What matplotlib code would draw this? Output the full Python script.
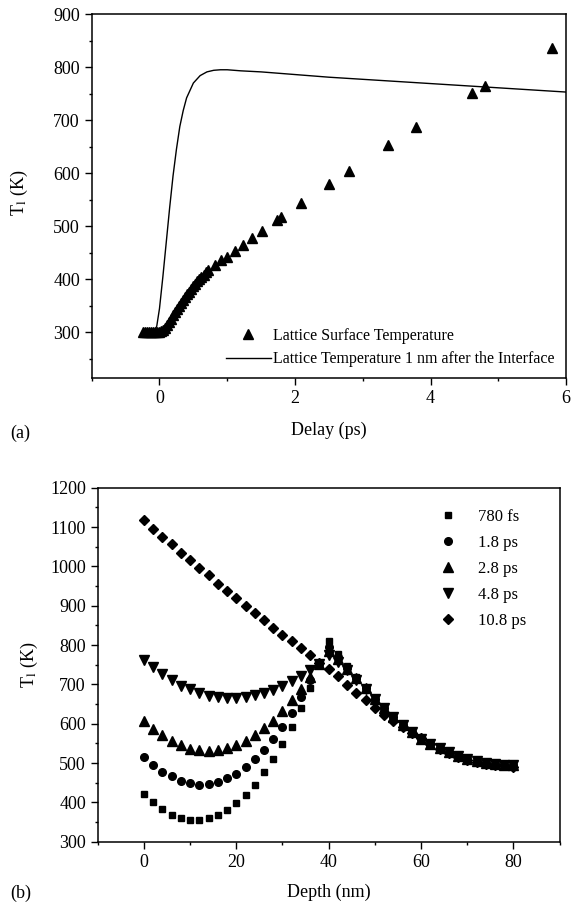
import matplotlib
matplotlib.use("Agg")
import matplotlib.pyplot as plt
from matplotlib.ticker import MultipleLocator

plt.rcParams['font.family'] = ['Liberation Serif', 'DejaVu Serif']
plt.rcParams['mathtext.fontset'] = 'stix'

# (a) lattice surface temperature vs delay
surf_delay = [-0.25, -0.22, -0.19, -0.16, -0.13, -0.10, -0.07, -0.04, -0.01,
              0.02, 0.05, 0.08, 0.11, 0.14, 0.17, 0.20, 0.23, 0.26, 0.29,
              0.32, 0.35, 0.38, 0.41, 0.44, 0.47, 0.50, 0.53, 0.56, 0.59,
              0.62, 0.65, 0.68, 0.72, 0.82, 0.91, 1.00, 1.11, 1.23, 1.37,
              1.51, 1.73, 1.80, 2.09, 2.50, 2.79, 3.37, 3.79, 4.61, 4.80, 5.80]
surf_temp = [300, 300, 300, 300, 300, 300, 300, 300, 300,
             302, 305, 309, 314, 320, 326, 332, 338, 344, 350,
             356, 361, 367, 372, 377, 382, 387, 391, 396, 400,
             405, 409, 413, 418, 427, 436, 443, 454, 465, 477,
             492, 511, 517, 544, 580, 604, 654, 688, 751, 764, 836]

# (a) lattice temperature 1 nm after the interface
int_delay = [-0.25, -0.08, -0.04, 0.0, 0.05, 0.1, 0.15, 0.2, 0.25, 0.3, 0.35,
             0.4, 0.5, 0.6, 0.7, 0.8, 0.9, 1.0, 1.2, 1.5, 2.0, 2.5, 3.0, 3.5,
             4.0, 4.5, 5.0, 5.5, 6.0]
int_temp = [300, 300, 312, 345, 405, 470, 535, 595, 645, 688, 718,
            742, 770, 784, 791, 794, 795, 795, 793, 791, 786, 781, 777, 773,
            769, 765, 761, 757, 753]

# (b) temperature profiles vs depth
depth = list(range(0, 82, 2))
tail = [809, 778, 746, 718, 691, 665, 640, 617, 596, 578, 562, 548, 537, 527,
        518, 511, 505, 500, 498, 496, 495]  # 40..80 nm
t_780fs = [421, 400, 383, 369, 360, 356, 355, 359, 368, 381, 398, 419, 444,
           476, 511, 549, 591, 640, 691, 748] + tail
t_1p8ps = [516, 495, 478, 466, 455, 449, 445, 447, 453, 461, 472, 489, 510,
           534, 562, 591, 628, 668, 712, 752, 795, 770, 742, 716, 690, 664,
           640, 617, 596, 578, 562, 548, 537, 527, 518, 511, 505, 500, 498,
           496, 495]
t_2p8ps = [606, 587, 570, 556, 545, 536, 532, 530, 532, 538, 546, 557, 572,
           589, 606, 632, 659, 689, 719, 752, 785, 765, 740, 715, 690, 664,
           640, 617, 596, 578, 562, 548, 537, 527, 518, 511, 505, 500, 498,
           496, 495]
t_4p8ps = [763, 744, 727, 712, 697, 687, 678, 671, 668, 665, 665, 668, 672,
           678, 686, 697, 708, 720, 737, 752, 774, 758, 736, 712, 688, 663,
           640, 617, 596, 578, 562, 548, 537, 527, 518, 511, 505, 500, 498,
           496, 494]
t_10p8ps = [1117, 1096, 1075, 1056, 1035, 1015, 996, 977, 956, 938, 919, 900,
            882, 863, 844, 826, 809, 792, 774, 755, 740, 720, 699, 678, 659,
            640, 623, 607, 591, 577, 563, 549, 536, 525, 515, 508, 502, 498,
            495, 494, 491]
labels_b = ['780 fs', '1.8 ps', '2.8 ps', '4.8 ps', '10.8 ps']

fig = plt.figure(figsize=(5.78, 9.07), dpi=100)
ax1 = fig.add_axes([0.1587, 0.5832, 0.8206, 0.4013])
ax2 = fig.add_axes([0.169, 0.072, 0.7993, 0.3903])

ax1.plot(surf_delay, surf_temp, linestyle='none', marker='^', color='black',
         markersize=7.5, label='Lattice Surface Temperature')
ax1.plot(int_delay, int_temp, color='black', linewidth=1.0,
         label='Lattice Temperature 1 nm after the Interface')
ax1.set_xlim(-1, 6)
ax1.set_ylim(214, 900)
ax1.xaxis.set_major_locator(MultipleLocator(2))
ax1.xaxis.set_minor_locator(MultipleLocator(1))
ax1.yaxis.set_major_locator(MultipleLocator(100))
ax1.yaxis.set_minor_locator(MultipleLocator(50))
ax1.set_yticks([300, 400, 500, 600, 700, 800, 900])
ax1.set_xlabel('Delay (ps)', fontsize=13)
ax1.set_ylabel(r'T$_\mathrm{l}$ (K)', fontsize=13)
ax1.xaxis.set_label_coords(0.5, -0.12)
ax1.yaxis.set_label_coords(-0.13, 0.51)
ax1.legend(loc='lower left', bbox_to_anchor=(0.283, 0.03), frameon=False,
           fontsize=11.5, numpoints=1, handlelength=2.8, handletextpad=0.15,
           borderpad=0, borderaxespad=0, labelspacing=0.45)

series = [t_780fs, t_1p8ps, t_2p8ps, t_4p8ps, t_10p8ps]
markers = ['s', 'o', '^', 'v', 'D']
sizes = [5, 5.5, 6.5, 6.5, 5]
for vals, m, s, lab in zip(series, markers, sizes, labels_b):
    ax2.plot(depth, vals, linestyle='none', marker=m, markersize=s,
             color='black', label=lab)
ax2.set_xlim(-10, 90)
ax2.set_ylim(300, 1200)
ax2.xaxis.set_major_locator(MultipleLocator(20))
ax2.xaxis.set_minor_locator(MultipleLocator(10))
ax2.yaxis.set_major_locator(MultipleLocator(100))
ax2.yaxis.set_minor_locator(MultipleLocator(50))
ax2.set_xticks([0, 20, 40, 60, 80])
ax2.set_xlabel('Depth (nm)', fontsize=13)
ax2.set_ylabel(r'T$_\mathrm{l}$ (K)', fontsize=13)
ax2.xaxis.set_label_coords(0.5, -0.12)
ax2.yaxis.set_label_coords(-0.125, 0.5)
ax2.legend(loc='upper left', bbox_to_anchor=(0.723, 0.94), frameon=False,
           fontsize=12, numpoints=1, handlelength=2, handletextpad=0.8,
           borderpad=0, borderaxespad=0, labelspacing=0.6)

for ax in (ax1, ax2):
    ax.tick_params(which='both', direction='out', top=False, right=False,
                   labelsize=13, width=1)
    ax.tick_params(which='major', length=5)
    ax.tick_params(which='minor', length=2.5)
    for sp in ax.spines.values():
        sp.set_linewidth(1.1)

fig.text(10 / 578, 1 - 433 / 907, '(a)', fontsize=13, ha='left', va='center')
fig.text(10 / 578, 1 - 893 / 907, '(b)', fontsize=13, ha='left', va='center')

fig.savefig('out.png', dpi=100)
